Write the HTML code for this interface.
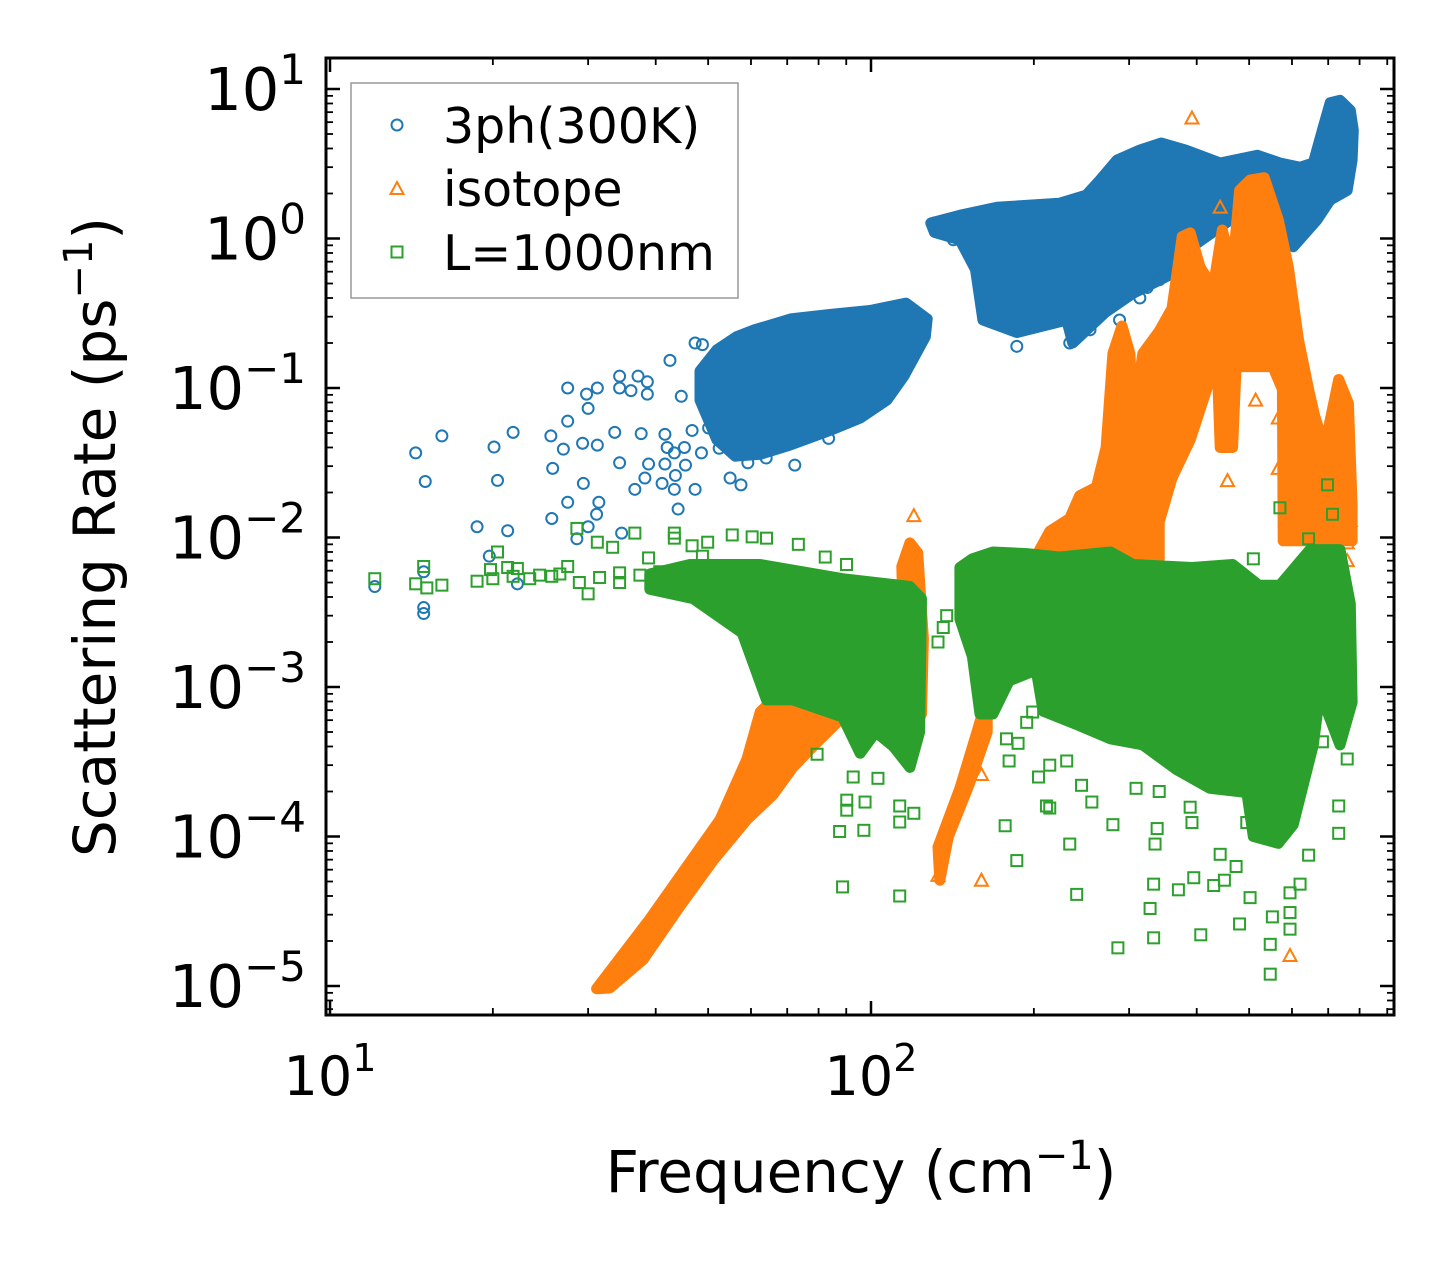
<!DOCTYPE html>
<html><head><meta charset="utf-8">
<style>
html,body{margin:0;padding:0;background:#fff;}
svg{display:block;font-family:"DejaVu Sans","Liberation Sans",sans-serif;}
</style></head>
<body>
<svg id="chart" width="1455" height="1265" viewBox="0 0 1455 1265" xmlns="http://www.w3.org/2000/svg">
<defs><clipPath id="plotclip"><rect x="326" y="58" width="1068" height="957"/></clipPath></defs>
<rect x="0" y="0" width="1455" height="1265" fill="#fff"/>
<g id="marks" clip-path="url(#plotclip)"></g>
<g id="axes"></g>
<text x="861" y="1192" font-size="58" text-anchor="middle">Frequency (cm<tspan font-size="40" dy="-23">−1</tspan><tspan dy="23">)</tspan></text>
<text transform="translate(115,537) rotate(-90)" font-size="58" text-anchor="middle">Scattering Rate (ps<tspan font-size="40" dy="-23">−1</tspan><tspan dy="23">)</tspan></text>
<g id="legend">
<rect x="351" y="83" width="387" height="215" fill="#fff" fill-opacity="0.8" stroke="#999" stroke-width="1.5"/>
<circle cx="397" cy="125" r="5.5" fill="none" stroke="#1f77b4" stroke-width="2"/>
<text x="443" y="143" font-size="49">3ph(300K)</text>
<path d="M397,182 L403.5,194 L390.5,194 Z" fill="none" stroke="#ff7f0e" stroke-width="2"/>
<text x="443" y="206" font-size="49">isotope</text>
<rect x="391.5" y="246.5" width="11" height="11" fill="none" stroke="#2ca02c" stroke-width="2"/>
<text x="443" y="270" font-size="49">L=1000nm</text>
</g>
</svg>
<script>
// ---- data (frequency in cm^-1, rate in ps^-1) ----
const blueLowBandFreq = [48.3,51.9,56.4,60.9,71.1,83.9,99.6,116,127,126,115,107,95.5,83.9,70.8,62.4,56.1,51.9,48.3];
const blueLowBandRate = [0.13,0.18,0.22,0.245,0.29,0.31,0.33,0.37,0.29,0.22,0.12,0.083,0.063,0.052,0.0415,0.036,0.035,0.045,0.083];
const blueHighBandFreq = [129,146,171,223,250,265,285,314,344,382,442,518,570,621,657,683,706,736,769,779,775,759,706,667,603,539,461,392,363,305,271,236,230,186,161,156,146,131];
const blueHighBandRate = [1.27,1.43,1.62,1.72,1.95,2.46,3.35,3.9,4.35,3.9,3.2,3.6,3.2,3.0,3.2,5.3,8.1,8.4,7.2,5.3,3.35,2.1,1.81,1.33,0.88,1.09,1.33,0.88,0.59,0.43,0.32,0.2,0.285,0.235,0.285,0.62,0.98,1.1];
const blueFreq = [12.1,14.4,15.0,16.1,14.9,14.9,14.9,18.7,19.7,20.1,20.4,21.3,21.8,22.2,25.6,25.8,25.7,27.0,27.5,27.5,27.5,28.6,29.3,29.4,29.8,30.0,30.0,31.1,31.2,31.4,31.2,33.6,34.3,34.3,34.3,34.6,36.0,37.1,37.6,36.6,38.2,38.6,38.6,38.8,41.1,41.6,41.6,42.0,42.5,43.3,43.3,43.5,44.0,44.6,45.2,45.4,46.7,47.3,47.3,48.6,48.8,50.1,52.4,54.9,57.5,59.2,64.0,72.3,83.5,89.5,186,233,324,314,344,382,131,134,142,157,173,197,254,288,341];
const blueRate = [0.0047,0.0368,0.0237,0.0478,0.0059,0.0034,0.0031,0.0118,0.0075,0.0403,0.0241,0.0111,0.0505,0.0049,0.0478,0.029,0.0134,0.039,0.1,0.06,0.0172,0.0098,0.0427,0.023,0.091,0.073,0.0118,0.0143,0.1,0.0172,0.0415,0.0505,0.12,0.1,0.0316,0.0107,0.096,0.12,0.0495,0.021,0.025,0.11,0.091,0.031,0.023,0.049,0.031,0.04,0.153,0.0368,0.021,0.026,0.0155,0.088,0.04,0.0305,0.052,0.2,0.021,0.0368,0.195,0.054,0.0395,0.025,0.0225,0.0316,0.034,0.0305,0.046,0.063,0.19,0.2,0.47,0.4,4.1,3.8,1.27,1.1,0.98,0.74,0.39,0.36,0.245,0.285,0.53];

const isoBranchAFreq = [31.1,39.0,52.6,59.0,62.4,68.0,87.5,88.6,78.1,71.7,65.9,59.0,51.2,44.3,37.9,32.9];
const isoBranchARate = [9.6e-6,2.8e-5,1.3e-4,3.3e-4,6.8e-4,9.2e-4,1.24e-3,6.3e-4,4.0e-4,2.9e-4,1.9e-4,1.3e-4,7.0e-5,3.4e-5,1.5e-5,9.7e-6];
const isoSpikeFreq = [114,118,122,125,124,115];
const isoSpikeRate = [0.0064,0.0092,0.0079,0.0021,6.6e-4,0.0021];
const isoBranchBFreq = [133,146,157,166,173,177,164,164,152,139,134];
const isoBranchBRate = [8.5e-5,2.1e-4,5.0e-4,1.0e-3,1.77e-3,2.07e-3,9.6e-4,5.0e-4,2.25e-4,1.0e-4,5.1e-5];
const isoMountainFreq = [205,214,233,243,261,272,280,291,301,305,318,341,360,376,389,406,429,446,466,480,502,533,566,591,617,644,661,689,732,763,775,775,578,576,553,473,466,442,436,389,360,341,341,205];
const isoMountainRate = [0.0083,0.011,0.0134,0.019,0.0217,0.04,0.17,0.26,0.17,0.06,0.17,0.24,0.34,1.03,1.09,0.64,0.47,1.14,0.62,2.1,2.46,2.55,1.33,0.64,0.21,0.098,0.065,0.04,0.114,0.079,0.0164,0.0095,0.0095,0.098,0.139,0.139,0.04,0.04,0.16,0.045,0.025,0.0127,0.0072,0.0072];
const isoFreq = [392,442,456,566,566,514,759,759,595,160,160,120,136,133,138,769];
const isoRate = [6.4,1.62,0.024,0.063,0.029,0.083,0.007,0.0092,1.6e-5,2.6e-4,5.1e-5,0.014,9.2e-5,5.5e-5,1.14e-4,0.013];

const bndBandAFreq = [39.0,46.3,62.4,88.6,118,124,123,118,110,102,95.5,88.6,71.7,64.1,57.8,46.9,39.0];
const bndBandARate = [0.0057,0.0066,0.0066,0.0053,0.0047,0.0039,5.0e-4,2.9e-4,4.0e-4,5.0e-4,3.6e-4,6.3e-4,8.2e-4,8.2e-4,2.3e-3,0.0039,0.0045];
const bndBandBFreq = [146,154,168,194,223,277,305,392,466,521,570,648,736,769,775,736,676,657,603,566,509,495,423,367,318,277,240,208,202,180,168,159,154,146];
const bndBandBRate = [0.0063,0.0072,0.008,0.0078,0.0074,0.008,0.0066,0.0063,0.0066,0.0048,0.0048,0.0083,0.0083,0.0036,7.9e-4,4.1e-4,9.2e-4,4.1e-4,1.2e-4,9e-5,1.0e-4,1.97e-4,2.1e-4,2.8e-4,4.1e-4,4.5e-4,5.6e-4,6.9e-4,1.3e-3,1.1e-3,6.6e-4,6.6e-4,1.6e-3,2.85e-3];
const bndFreq = [12.1,14.4,15.1,14.9,16.1,18.7,20.0,20.4,19.8,21.3,21.8,22.2,25.7,27.5,28.6,30.0,31.2,33.3,36.6,38.8,43.3,43.3,46.7,49.9,48.8,55.4,60.3,64.1,73.4,82.3,90.1,26.6,31.5,34.3,37.4,40.7,24.4,23.4,34.3,28.9,87.5,97.0,88.6,113,90.2,90.2,97.5,113,113,120,92.7,103,79.5,133,136,138,178,187,180,177,186,214,204,199,194,233,240,211,245,256,280,286,309,335,338,333,328,333,370,395,407,430,450,442,480,502,547,547,552,595,595,595,621,732,732,759,683,698,713,644,509,570,341,389,495,644,473,392,214,230];
const bndRate = [0.0053,0.0049,0.0046,0.0064,0.0048,0.0051,0.0053,0.008,0.0061,0.0063,0.0055,0.0062,0.0055,0.0064,0.0115,0.0042,0.0093,0.0086,0.0107,0.0073,0.0107,0.0099,0.0088,0.0093,0.0075,0.0104,0.0101,0.0099,0.009,0.0074,0.0066,0.0057,0.0054,0.0058,0.0056,0.0059,0.0056,0.0053,0.005,0.005,1.08e-4,1.1e-4,4.6e-5,4.0e-5,1.75e-4,1.5e-4,1.7e-4,1.6e-4,1.25e-4,1.43e-4,2.5e-4,2.45e-4,3.55e-4,2.0e-3,2.5e-3,3.0e-3,4.5e-4,4.2e-4,3.2e-4,1.18e-4,6.9e-5,1.55e-4,2.5e-4,6.8e-4,5.8e-4,8.9e-5,4.1e-5,1.6e-4,2.2e-4,1.7e-4,1.2e-4,1.8e-5,2.1e-4,8.9e-5,1.13e-4,4.8e-5,3.3e-5,2.1e-5,4.4e-5,5.3e-5,2.2e-5,4.7e-5,5.1e-5,7.6e-5,2.6e-5,3.9e-5,1.9e-5,1.2e-5,2.9e-5,3.1e-5,2.4e-5,4.2e-5,4.8e-5,1.6e-4,1.05e-4,3.3e-4,4.3e-4,0.0225,0.0143,0.0098,0.0072,0.0158,2.0e-4,1.57e-4,1.24e-4,7.5e-5,6.3e-5,1.24e-4,3.0e-4,3.2e-4];

const xMajorTicks = [10,100];
const xMajorLabels = ["1","2"];
const yMajorTicks = [10,1,0.1,0.01,0.001,0.0001,0.00001];
const yMajorLabels = ["1","0","−1","−2","−3","−4","−5"];

// ---- scales ----
const X0=330, XD=541, Y0=89, YD=149.5;
function xs(f){return X0+(Math.log10(f)-1)*XD;}
function ys(r){return Y0+(1-Math.log10(r))*YD;}
const NS="http://www.w3.org/2000/svg";
const marks=document.getElementById('marks');
const axes=document.getElementById('axes');
const BLUE="#1f77b4", ORANGE="#ff7f0e", GREEN="#2ca02c";

function band(fa,ra,color,name){
  const p=document.createElementNS(NS,'polygon');
  p.setAttribute('points',fa.map((f,i)=>xs(f).toFixed(1)+','+ys(ra[i]).toFixed(1)).join(' '));
  p.setAttribute('fill',color);p.setAttribute('stroke',color);
  p.setAttribute('stroke-width','11');p.setAttribute('stroke-linejoin','round');
  
  
  marks.appendChild(p);
}
function circles(fa,ra){
  fa.forEach((f,i)=>{
    const c=document.createElementNS(NS,'circle');
    c.setAttribute('cx',xs(f));c.setAttribute('cy',ys(ra[i]));c.setAttribute('r',5.5);
    c.setAttribute('fill','none');c.setAttribute('stroke',BLUE);c.setAttribute('stroke-width','2');
    
    
    marks.appendChild(c);
  });
}
function triangles(fa,ra){
  fa.forEach((f,i)=>{
    const x=xs(f),y=ys(ra[i]);
    const t=document.createElementNS(NS,'path');
    t.setAttribute('d',`M${x},${y-6.5} L${x+6.5},${y+5.5} L${x-6.5},${y+5.5} Z`);
    t.setAttribute('fill','none');t.setAttribute('stroke',ORANGE);t.setAttribute('stroke-width','2');
    
    
    marks.appendChild(t);
  });
}
function squares(fa,ra){
  fa.forEach((f,i)=>{
    const s=document.createElementNS(NS,'rect');
    s.setAttribute('x',xs(f)-5.5);s.setAttribute('y',ys(ra[i])-5.5);s.setAttribute('width',11);s.setAttribute('height',11);
    s.setAttribute('fill','none');s.setAttribute('stroke',GREEN);s.setAttribute('stroke-width','2');
    
    
    marks.appendChild(s);
  });
}
band(blueLowBandFreq,blueLowBandRate,BLUE,'3ph-dense-low');
band(blueHighBandFreq,blueHighBandRate,BLUE,'3ph-dense-high');
circles(blueFreq,blueRate);
band(isoBranchAFreq,isoBranchARate,ORANGE,'isotope-branch-a');
band(isoSpikeFreq,isoSpikeRate,ORANGE,'isotope-spike');
band(isoBranchBFreq,isoBranchBRate,ORANGE,'isotope-branch-b');
band(isoMountainFreq,isoMountainRate,ORANGE,'isotope-dense-high');
triangles(isoFreq,isoRate);
band(bndBandAFreq,bndBandARate,GREEN,'boundary-dense-low');
band(bndBandBFreq,bndBandBRate,GREEN,'boundary-dense-high');
squares(bndFreq,bndRate);

// ---- axes ----
function line(x1,y1,x2,y2,w,name){
  const l=document.createElementNS(NS,'line');
  l.setAttribute('x1',x1);l.setAttribute('y1',y1);l.setAttribute('x2',x2);l.setAttribute('y2',y2);
  l.setAttribute('stroke','#000');l.setAttribute('stroke-width',w);
  
  
  axes.appendChild(l);
}
const L=326,R=1394,T=58,B=1015;
for(let d=1;d<=2;d++){for(let k=1;k<=9;k++){
  const f=k*Math.pow(10,d); const x=xs(f);
  if(x<L-1||x>R+1) continue;
  const len=k===1?14:7, w=k===1?2.5:1.8;
  line(x,B,x,B-len,w,'x-tick');line(x,T,x,T+len,w,'x-tick-top');
}}
for(let d=-6;d<=1;d++){for(let k=1;k<=9;k++){
  const r=k*Math.pow(10,d); const y=ys(r);
  if(y<T-1||y>B+1) continue;
  const len=k===1?14:7, w=k===1?2.5:1.8;
  line(L,y,L+len,y,w,'y-tick');line(R,y,R-len,y,w,'y-tick-right');
}}
const frame=document.createElementNS(NS,'rect');
frame.setAttribute('x',L);frame.setAttribute('y',T);frame.setAttribute('width',R-L);frame.setAttribute('height',B-T);
frame.setAttribute('fill','none');frame.setAttribute('stroke','#000');frame.setAttribute('stroke-width','3');


axes.appendChild(frame);
xMajorTicks.forEach((f,i)=>{
  const t=document.createElementNS(NS,'text');
  t.setAttribute('x',xs(f));t.setAttribute('y',1095);t.setAttribute('font-size','54');t.setAttribute('text-anchor','middle');
  t.innerHTML='10<tspan font-size="38" dy="-24">'+xMajorLabels[i]+'</tspan>';
  
  
  axes.appendChild(t);
});
yMajorTicks.forEach((r,i)=>{
  const t=document.createElementNS(NS,'text');
  t.setAttribute('x',306);t.setAttribute('y',ys(r)+21);t.setAttribute('font-size','59');t.setAttribute('text-anchor','end');
  t.innerHTML='10<tspan font-size="42" dy="-26">'+yMajorLabels[i]+'</tspan>';
  
  
  axes.appendChild(t);
});
</script>
</body></html>
